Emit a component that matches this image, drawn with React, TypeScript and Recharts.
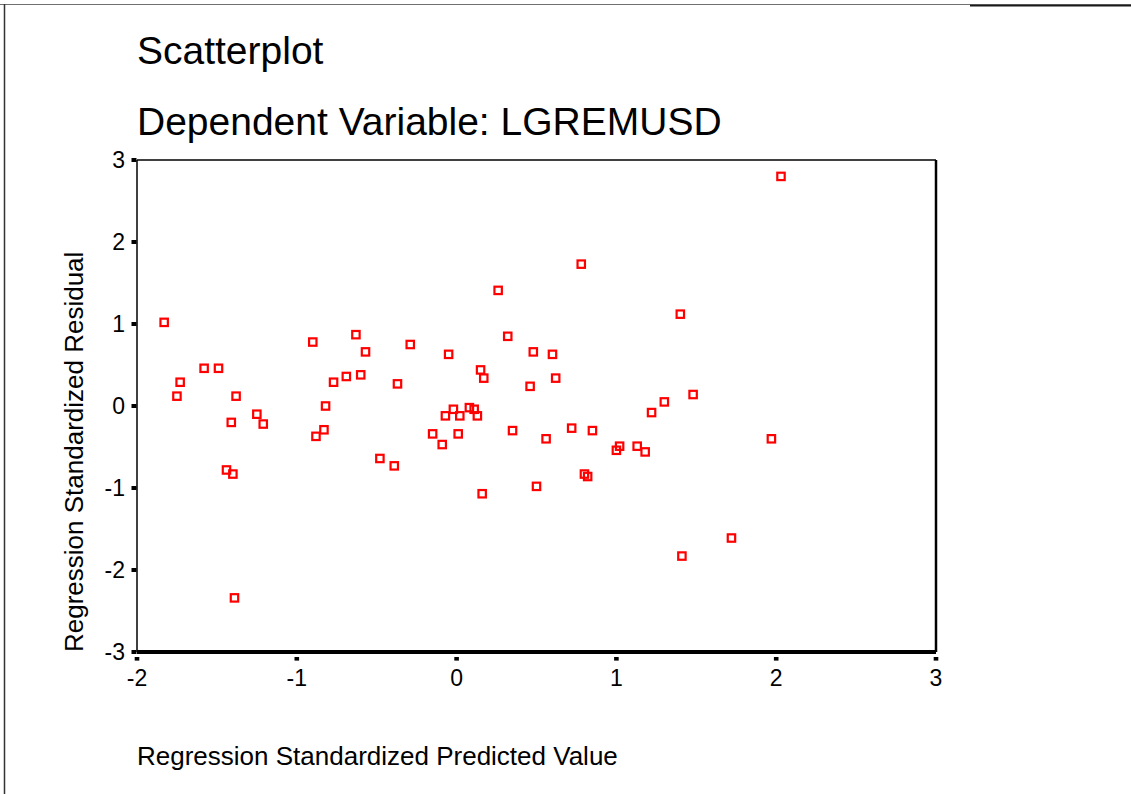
import React from 'react';
import { ScatterChart, Scatter, XAxis, YAxis, ReferenceLine } from 'recharts';

const predicted = [
  -1.83, -1.75, -1.73, -1.58, -1.49, -1.38, -1.25, -1.41, -1.21, -1.44, -1.40, -1.39,
  -0.82, -0.83, -0.88, -0.48, -0.39, -0.90, -0.63, -0.57, -0.77, -0.69, -0.60, -0.37,
  -0.29, -0.05, 0.26, 0.78, 0.32, 0.48, 0.60, 0.15, 0.17, 0.46, 0.62, 1.40,
  1.48, 1.30, 1.22, 2.03, 1.97, 1.72, 1.41, -0.02, -0.07, 0.02, 0.08, 0.11,
  0.13, -0.15, 0.01, -0.09, 0.35, 0.56, 0.72, 0.85, 1.02, 1.00, 1.13, 1.18,
  0.80, 0.82, 0.50, 0.16,
];
const residual = [
  1.02, 0.12, 0.29, 0.46, 0.46, 0.12, -0.10, -0.20, -0.22, -0.78, -0.83, -2.34,
  0.00, -0.29, -0.37, -0.64, -0.73, 0.78, 0.87, 0.66, 0.29, 0.36, 0.38, 0.27,
  0.75, 0.63, 1.41, 1.73, 0.85, 0.66, 0.63, 0.44, 0.34, 0.24, 0.34, 1.12,
  0.14, 0.05, -0.08, 2.80, -0.40, -1.61, -1.83, -0.04, -0.12, -0.12, -0.02, -0.04,
  -0.12, -0.34, -0.34, -0.47, -0.30, -0.40, -0.27, -0.30, -0.49, -0.54, -0.49, -0.56,
  -0.83, -0.86, -0.98, -1.07,
];
const xTicks = [-2, -1, 0, 1, 2, 3];
const yTicks = [-3, -2, -1, 0, 1, 2, 3];
const titleLines = ['Scatterplot', 'Dependent Variable: LGREMUSD'];
const xLabel = 'Regression Standardized Predicted Value';
const yLabel = 'Regression Standardized Residual';

const points = predicted.map((x, i) => ({ x, y: residual[i] }));
const FONT = '"Liberation Sans", Arial, sans-serif';

const SquareMarker = (props: any) => {
  const { cx, cy } = props;
  return (
    <rect x={cx - 3.7} y={cy - 3.7} width={7.4} height={7.4} fill="none" stroke="#ff0000" strokeWidth={2.2} />
  );
};

const XTick = (props: any) => {
  const { x, y, payload } = props;
  return (
    <g>
      <rect x={x - 2.3} y={y + 5} width={4.6} height={3.6} fill="#000" />
      <text x={x} y={y + 34} textAnchor="middle" fontSize={23} fontFamily={FONT} fill="#000">
        {payload.value}
      </text>
    </g>
  );
};

const YTick = (props: any) => {
  const { x, y, payload } = props;
  return (
    <g>
      <rect x={x - 5.5} y={y - 2} width={5} height={4} fill="#000" />
      <text x={x - 12} y={y + 8} textAnchor="end" fontSize={23} fontFamily={FONT} fill="#000">
        {payload.value}
      </text>
    </g>
  );
};

export default function App() {
  return (
    <div style={{ position: 'absolute', left: 0, top: 0, width: 1131, height: 794, background: '#fff' }}>
      <svg width={1131} height={794} style={{ position: 'absolute', left: 0, top: 0 }}>
        <line x1={0} y1={4.5} x2={970} y2={4.5} stroke="#707070" strokeWidth={1.2} />
        <line x1={970} y1={5.3} x2={1131} y2={5.3} stroke="#1a1a1a" strokeWidth={2.2} />
        <line x1={4.5} y1={4} x2={4.5} y2={794} stroke="#333" strokeWidth={1.5} />
        <text x={137} y={64} fontSize={39} fontFamily={FONT} fill="#000">{titleLines[0]}</text>
        <text x={137} y={135} fontSize={39} fontFamily={FONT} fill="#000">{titleLines[1]}</text>
        <text x={137} y={765} fontSize={26} fontFamily={FONT} fill="#000">{xLabel}</text>
        <text x={83} y={652} fontSize={26} fontFamily={FONT} fill="#000" transform="rotate(-90, 83, 652)">{yLabel}</text>
      </svg>
      <div style={{ position: 'absolute', left: 0, top: 0 }}>
        <ScatterChart width={1131} height={794} margin={{ top: 160, right: 195, bottom: 102, left: 0 }}>
          <XAxis
            type="number"
            dataKey="x"
            domain={[-2, 3]}
            ticks={xTicks}
            interval={0}
            height={40}
            tickSize={0}
            tickMargin={0}
            tickLine={false}
            axisLine={{ stroke: '#000', strokeWidth: 4 }}
            tick={<XTick />}
          />
          <YAxis
            type="number"
            dataKey="y"
            domain={[-3, 3]}
            ticks={yTicks}
            interval={0}
            width={137}
            tickSize={0}
            tickMargin={0}
            tickLine={false}
            axisLine={{ stroke: '#000', strokeWidth: 1.5 }}
            tick={<YTick />}
          />
          <ReferenceLine y={3} stroke="#000" strokeWidth={1.6} />
          <ReferenceLine x={3} stroke="#000" strokeWidth={2.5} />
          <Scatter data={points} shape={SquareMarker} isAnimationActive={false} />
        </ScatterChart>
      </div>
    </div>
  );
}
